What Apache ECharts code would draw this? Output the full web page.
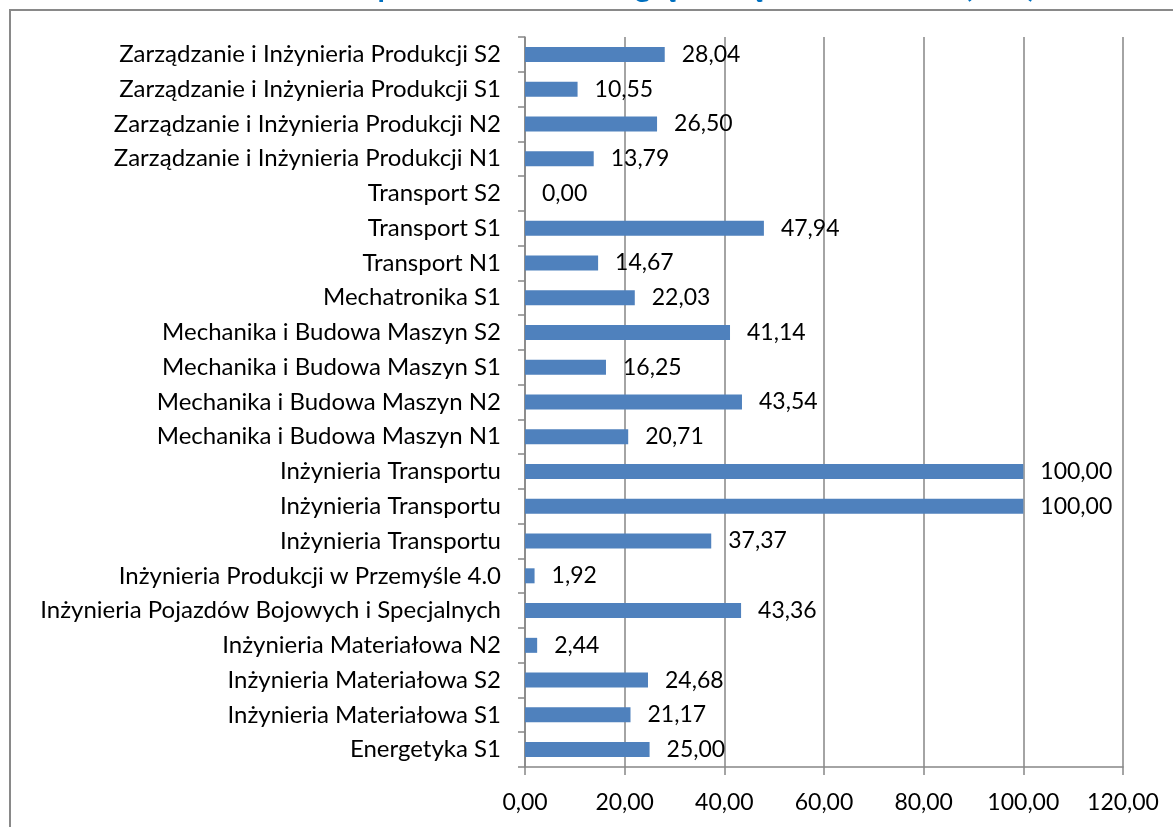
<!DOCTYPE html>
<html>
<head>
<meta charset="utf-8">
<script src="https://cdn.jsdelivr.net/npm/echarts@6/dist/echarts.min.js"></script>
<style>
  html, body { margin: 0; padding: 0; background: #fff; }
  #chart { width: 1173px; height: 827px; }
</style>
</head>
<body>
<div id="chart"></div>
<script>
// kategorie od góry do dołu
var categories = [
  'Zarządzanie i Inżynieria Produkcji S2',
  'Zarządzanie i Inżynieria Produkcji S1',
  'Zarządzanie i Inżynieria Produkcji N2',
  'Zarządzanie i Inżynieria Produkcji N1',
  'Transport S2',
  'Transport S1',
  'Transport N1',
  'Mechatronika S1',
  'Mechanika i Budowa Maszyn S2',
  'Mechanika i Budowa Maszyn S1',
  'Mechanika i Budowa Maszyn N2',
  'Mechanika i Budowa Maszyn N1',
  'Inżynieria Transportu',
  'Inżynieria Transportu ',
  'Inżynieria Transportu  ',
  'Inżynieria Produkcji w Przemyśle 4.0',
  'Inżynieria Pojazdów Bojowych i Specjalnych',
  'Inżynieria Materiałowa N2',
  'Inżynieria Materiałowa S2',
  'Inżynieria Materiałowa S1',
  'Energetyka S1'
]
var values = [28.04, 10.55, 26.50, 13.79, 0.00, 47.94, 14.67, 22.03, 41.14, 16.25,
  43.54, 20.71, 100.00, 100.00, 37.37, 1.92, 43.36, 2.44, 24.68, 21.17, 25.00]
var xTicks = [0, 20, 40, 60, 80, 100, 120]

var titleText = 'Odsetek przedmiotów z zaległą oceną na kierunkach (w %)'
var fontFamily = 'Lato, "Open Sans", sans-serif'

function fmt (v) {
  return Number(v).toFixed(2).replace('.', ',')
}

var chart = echarts.init(document.getElementById('chart'))
var option = {
  animation: false,
  backgroundColor: '#fff',
  textStyle: { fontFamily: fontFamily },
  graphic: [
    {
      type: 'rect',
      shape: { x: 10, y: 10, width: 1250, height: 900 },
      style: { fill: 'none', stroke: '#898989', lineWidth: 2 },
      silent: true
    },
    {
      // tytuł ucięty u góry - widać tylko dolne elementy liter
      type: 'text',
      x: 1036,
      y: 2,
      style: {
        text: titleText,
        fill: '#0070C0',
        font: 'bold 30px ' + fontFamily,
        textAlign: 'right',
        textVerticalAlign: 'bottom'
      },
      silent: true
    }
  ],
  grid: {
    left: 525,
    right: 50,
    top: 37,
    bottom: 60,
    containLabel: false
  },
  xAxis: {
    type: 'value',
    min: xTicks[0],
    max: xTicks[xTicks.length - 1],
    interval: 20,
    axisLine: { show: true, lineStyle: { color: '#868686', width: 1.5 } },
    axisTick: { show: true, length: 8, lineStyle: { color: '#868686', width: 1.5 } },
    splitLine: { show: true, lineStyle: { color: '#868686', width: 1.5 } },
    axisLabel: {
      color: '#000',
      fontSize: 23,
      margin: 24,
      formatter: function (v) { return fmt(v) }
    }
  },
  yAxis: {
    type: 'category',
    inverse: true,
    data: categories,
    axisLine: { show: true, lineStyle: { color: '#868686', width: 1.5 } },
    axisTick: { show: true, length: 7, lineStyle: { color: '#868686', width: 1.5 } },
    splitLine: { show: false },
    axisLabel: {
      color: '#000',
      fontSize: 24,
      margin: 24,
      formatter: function (v) { return v.trim() }
    }
  },
  series: [
    {
      type: 'bar',
      data: values,
      barWidth: 15,
      itemStyle: { color: '#4F81BD' },
      label: {
        show: true,
        position: 'right',
        distance: 17,
        color: '#000',
        fontSize: 23,
        formatter: function (p) { return fmt(p.value) }
      }
    }
  ]
}
chart.setOption(option)
</script>
</body>
</html>
